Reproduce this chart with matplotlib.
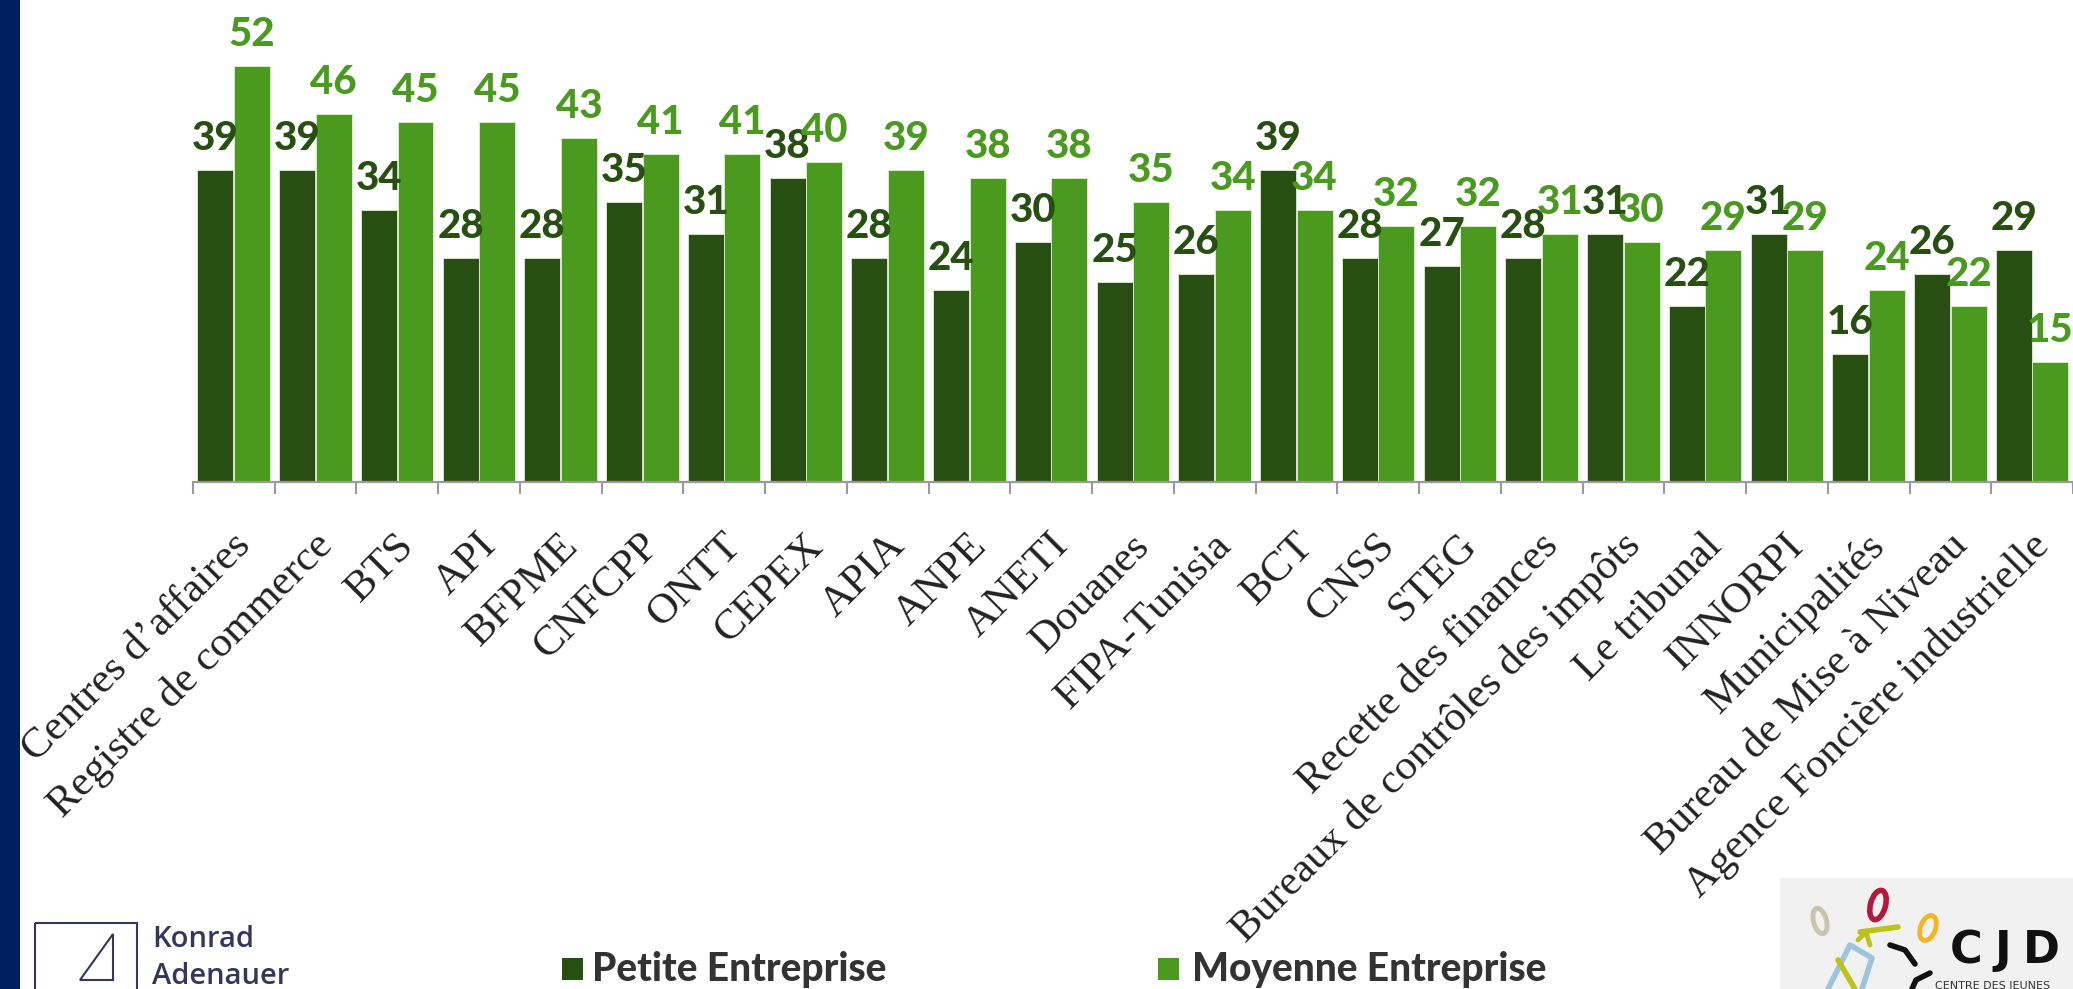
import matplotlib
matplotlib.use("Agg")
import matplotlib.pyplot as plt
import matplotlib.transforms as mtransforms
from matplotlib.patches import Rectangle, Polygon, Ellipse
import numpy as np

categories = ["Centres d\u2019affaires", "Registre de commerce", "BTS", "API", "BFPME",
              "CNFCPP", "ONTT", "CEPEX", "APIA", "ANPE", "ANETI", "Douanes",
              "FIPA-Tunisia", "BCT", "CNSS", "STEG", "Recette des finances",
              "Bureaux de contr\u00f4les des imp\u00f4ts", "Le tribunal", "INNORPI",
              "Municipalit\u00e9s", "Bureau de Mise \u00e0 Niveau",
              "Agence Fonci\u00e8re industrielle"]
petite = [39, 39, 34, 28, 28, 35, 31, 38, 28, 24, 30, 25, 26, 39, 28, 27, 28, 31, 22, 31, 16, 26, 29]
moyenne = [52, 46, 45, 45, 43, 41, 41, 40, 39, 38, 38, 35, 34, 34, 32, 32, 31, 30, 29, 29, 24, 22, 15]
series_names = ["Petite Entreprise", "Moyenne Entreprise"]

DARK = "#284f12"
LIGHT = "#4b9a20"
NAVY = "#001f5f"

W, H = 2073, 989
fig = plt.figure(figsize=(W / 100, H / 100), dpi=100)
fig.patch.set_facecolor("white")

# main axes in pixel layout
x0, base, grp = 193, 482, 82
ax = fig.add_axes([x0 / W, (H - base) / H, (W - x0) / W, base / H])
ax.set_xlim(-0.5, -0.5 + (W - x0) / grp)
ax.set_ylim(0, base / 8.0)
ax.patch.set_alpha(0)

x = np.arange(len(categories))
bw = 0.44
ax.bar(x - 0.225, petite, width=bw, color=DARK, edgecolor="#e4ead8", linewidth=0.6, zorder=2)
ax.bar(x + 0.222, moyenne, width=bw, color=LIGHT, edgecolor="#e4ead8", linewidth=0.6, zorder=2)

lab_font = dict(family="Lato", fontweight=900, fontsize=29)
for xi, v in zip(x, petite):
    ax.annotate(str(v), (xi - 0.225, v), xytext=(0, 14.4), textcoords="offset points",
                ha="center", va="baseline", color=DARK, annotation_clip=False, zorder=3, **lab_font)
for xi, v in zip(x, moyenne):
    ax.annotate(str(v), (xi + 0.222, v), xytext=(0, 14.4), textcoords="offset points",
                ha="center", va="baseline", color=LIGHT, annotation_clip=False, zorder=4, **lab_font)

for s in ["top", "left", "right"]:
    ax.spines[s].set_visible(False)
ax.spines["bottom"].set_color("#9a9a9a")
ax.spines["bottom"].set_linewidth(1.6)
ax.set_yticks([])
ax.set_xticks(np.arange(-0.5, len(categories) + 0.5, 1.0))
ax.set_xticklabels([])
ax.tick_params(axis="x", length=8.6, width=1.5, color="#9a9a9a", direction="out")

trans = mtransforms.offset_copy(ax.transData, fig=fig, x=11, y=-58, units="dots")
for xi, c in zip(x, categories):
    ax.text(xi, 0, c, transform=trans, rotation=45, rotation_mode="anchor",
            ha="right", va="center", fontsize=31, family="Liberation Serif",
            color="#222222", clip_on=False)

# overlay in pixel coords
ov = fig.add_axes([0, 0, 1, 1], zorder=5)
ov.set_xlim(0, W)
ov.set_ylim(H, 0)
ov.axis("off")
ov.patch.set_alpha(0)

ov.add_patch(Rectangle((0, 0), 20, H, color=NAVY, lw=0))

# legend
ov.add_patch(Rectangle((562, 958), 21, 22, color=DARK, lw=0))
ov.text(592, 981, series_names[0], family="Lato", fontweight=900, fontsize=28,
        color="#333333", ha="left", va="baseline")
ov.add_patch(Rectangle((1158, 958), 21, 22, color=LIGHT, lw=0))
ov.text(1192, 981, series_names[1], family="Lato", fontweight=900, fontsize=28,
        color="#333333", ha="left", va="baseline")

# Konrad Adenauer logo
KAS = "#35365a"
ov.add_patch(Rectangle((35, 923), 102, 80, fill=False, ec=KAS, lw=1.5))
ov.add_patch(Polygon([(80, 980), (113, 934), (113, 980)], closed=True, fill=False, ec=KAS, lw=1.5))
ov.text(152, 947, "Konrad", family="Open Sans", fontweight="semibold", fontsize=21,
        color=KAS, ha="left", va="baseline")
ov.text(152, 984, "Adenauer", family="Open Sans", fontweight="semibold", fontsize=21,
        color=KAS, ha="left", va="baseline")

# CJD logo
ov.add_patch(Rectangle((1780, 878), W - 1780, H - 878, color="#f1f1f1", lw=0))
ov.add_patch(Ellipse((1820, 921), 13, 26, angle=-15, fill=False, ec="#c9c5ad", lw=3.5))
ov.add_patch(Ellipse((1878, 905), 15, 30, angle=15, fill=False, ec="#b3183c", lw=4))
ov.add_patch(Ellipse((1928, 928), 15, 26, angle=20, fill=False, ec="#f0b720", lw=3.5))
ov.plot([1860, 1898], [932, 927], color="#bcc41c", lw=4, solid_capstyle="round")
ov.plot([1858, 1866, 1870], [940, 932, 945], color="#bcc41c", lw=3.5, solid_capstyle="round")
ov.plot([1828, 1850, 1872, 1862], [989, 945, 958, 989], color="#9dc4de", lw=4, solid_capstyle="round")
ov.plot([1838, 1855], [960, 989], color="#bcc41c", lw=4, solid_capstyle="round")
ov.plot([1890, 1905, 1915], [945, 950, 964], color="#111111", lw=4, solid_capstyle="round")
ov.plot([1930, 1916, 1912], [973, 980, 989], color="#111111", lw=4, solid_capstyle="round")
for cx, ch in zip([1966, 2003, 2041], ["C", "J", "D"]):
    ov.text(cx, 963, ch, family="DejaVu Sans", fontweight="bold", fontsize=32,
            color="#111111", ha="center", va="baseline")
ov.text(1993, 989, "CENTRE DES JEUNES", family="DejaVu Sans", fontsize=8,
        color="#333333", ha="center", va="baseline")

fig.savefig("out.png", dpi=100)
